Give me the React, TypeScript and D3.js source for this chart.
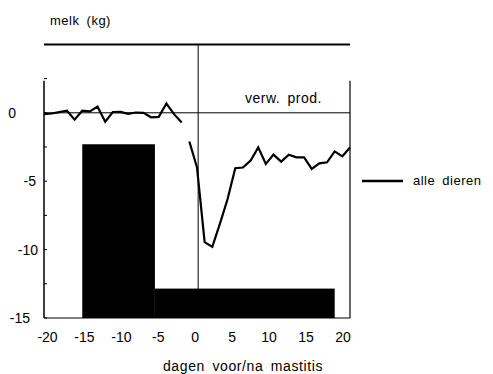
import React from "react";
import * as d3 from "d3";

const daysBefore = [-20, -19, -18, -17, -16, -15, -14, -13, -12, -11, -10, -9, -8, -7, -6, -5, -4, -3, -2];
const milkBefore = [-0.1, -0.05, 0.05, 0.15, -0.5, 0.15, 0.1, 0.45, -0.65, 0.05, 0.07, -0.07, 0.02, 0, -0.33, -0.3, 0.68, -0.1, -0.7];

const daysAfter = [-1, 0, 1, 2, 3, 4, 5, 6, 7, 8, 9, 10, 11, 12, 13, 14, 15, 16, 17, 18, 19, 20];
const milkAfter = [-2.1, -4.0, -9.45, -9.8, -8.1, -6.3, -4.05, -4.0, -3.5, -2.53, -3.74, -3.06, -3.57, -3.06, -3.26, -3.26, -4.1, -3.7, -3.62, -2.82, -3.18, -2.53];

const barStart = [-15, -5.5];
const barEnd = [-5.5, 18];
const barTop = [-2.3, -12.85];

const yTicks = [0, -5, -10, -15];
const xTicks = [-20, -15, -10, -5, 0, 5, 10, 15, 20];

const yLabel = "melk (kg)";
const xLabel = "dagen voor/na mastitis";
const annotation = "verw. prod.";
const legendLabel = "alle dieren";

const font = "'Liberation Sans', Arial, sans-serif";

export default function App() {
  const x = d3.scaleLinear().domain([-20, 20]).range([44, 350]);
  const xLab = d3.scaleLinear().domain([-20, 20]).range([47.5, 343]);
  const y = d3.scaleLinear().domain([-15, 5]).range([318, 44.4]);

  const lineGen = d3
    .line<[number, number]>()
    .x((d) => x(d[0]))
    .y((d) => y(d[1]));
  const before = lineGen(daysBefore.map((d, i) => [d, milkBefore[i]] as [number, number]));
  const after = lineGen(daysAfter.map((d, i) => [d, milkAfter[i]] as [number, number]));

  const yLabelEnds: Record<number, number> = { 0: 16, [-5]: 36, [-10]: 38, [-15]: 30 };
  const minorTicks = d3.range(-15, 2.6, 2.5);
  const txt = { letterSpacing: 0.5, wordSpacing: 3 } as React.CSSProperties;

  return (
    <svg
      width={493}
      height={374}
      style={{ position: "absolute", left: 0, top: 0, background: "#fff" }}
      fontFamily={font}
    >
      <rect width={493} height={374} fill="#fff" />
      <text x={50} y={25} fontSize={13} style={txt}>{yLabel}</text>

      <line x1={x(-20)} x2={x(20)} y1={y(5)} y2={y(5)} stroke="#000" strokeWidth={2} />
      <line x1={x(-20)} x2={x(-20)} y1={y(2.35)} y2={y(-15)} stroke="#000" strokeWidth={1.5} />
      <line x1={x(20)} x2={x(20)} y1={y(2.35)} y2={y(-15)} stroke="#000" strokeWidth={1.2} />
      <line x1={x(-20)} x2={x(20)} y1={y(-15)} y2={y(-15)} stroke="#000" strokeWidth={1.2} />
      <line x1={x(-20)} x2={x(20)} y1={y(0)} y2={y(0)} stroke="#000" strokeWidth={1} />
      <line x1={x(0.15)} x2={x(0.15)} y1={y(5)} y2={y(-15)} stroke="#000" strokeWidth={1} />

      {minorTicks.map((t) => (
        <line key={t} x1={x(-20)} x2={x(-20) + 3} y1={y(t)} y2={y(t)} stroke="#000" strokeWidth={1} />
      ))}

      {barStart.map((s, i) => (
        <rect
          key={i}
          x={x(s)}
          y={y(barTop[i])}
          width={x(barEnd[i]) - x(s)}
          height={y(-15) - y(barTop[i])}
          fill="#000"
        />
      ))}

      <path d={before ?? ""} fill="none" stroke="#000" strokeWidth={2.2} />
      <path d={after ?? ""} fill="none" stroke="#000" strokeWidth={2.2} />

      <text x={245} y={103} fontSize={14} style={txt}>{annotation}</text>

      {yTicks.map((t) => (
        <text key={t} x={yLabelEnds[t]} y={y(t) + 5} fontSize={14} textAnchor="end">
          {t}
        </text>
      ))}
      {xTicks.map((t) => (
        <text key={t} x={xLab(t)} y={342} fontSize={14} textAnchor="middle">
          {t}
        </text>
      ))}
      <text x={243} y={371} fontSize={14} textAnchor="middle" style={{ letterSpacing: 0.6, wordSpacing: 3 }}>
        {xLabel}
      </text>

      <line x1={362} x2={403} y1={181} y2={181} stroke="#000" strokeWidth={2.5} />
      <text x={413} y={185} fontSize={13} style={txt}>{legendLabel}</text>
    </svg>
  );
}
